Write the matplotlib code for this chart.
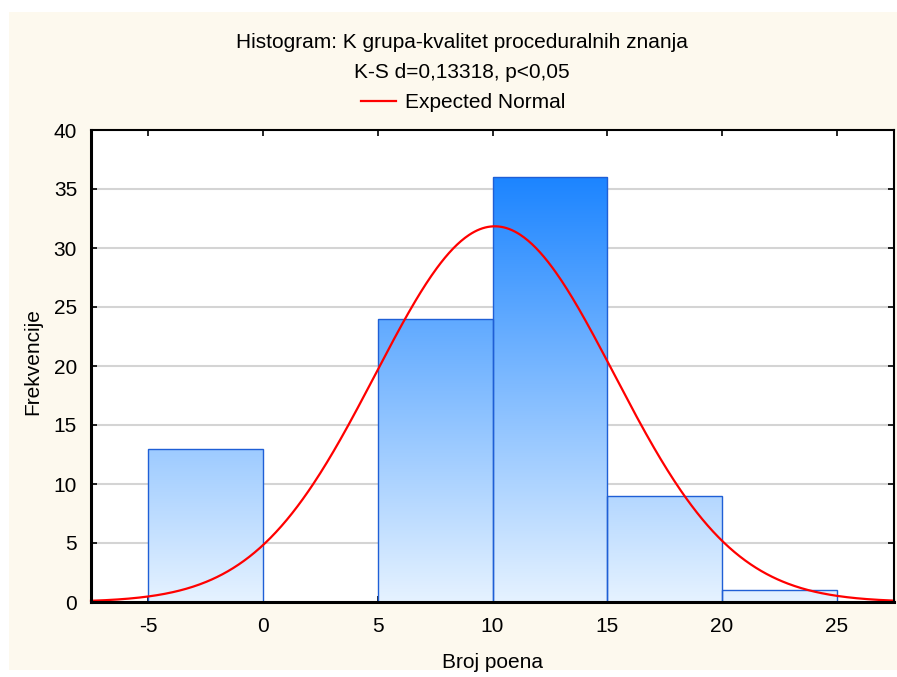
import numpy as np
import matplotlib
matplotlib.use("Agg")
import matplotlib.pyplot as plt
from matplotlib.patches import Rectangle
from matplotlib.lines import Line2D

plt.rcParams['font.family'] = ['Liberation Sans', 'DejaVu Sans']

# Histogram bins (lower edges) and counts
bin_edges = [-5, 0, 5, 10, 15, 20, 25]
counts = [13, 0, 24, 36, 9, 1]

# Parameters of the expected normal curve
sample_n = 83
sample_mean = 10.1
sample_sd = 5.2

title_line1 = "Histogram: K grupa-kvalitet proceduralnih znanja"
title_line2 = "K-S d=0,13318, p<0,05"
x_label = "Broj poena"
y_label = "Frekvencije"
x_ticks = [-5, 0, 5, 10, 15, 20, 25]
y_ticks = [0, 5, 10, 15, 20, 25, 30, 35, 40]

FS = 15

W, H = 897, 677
fig = plt.figure(figsize=(W / 100, H / 100), dpi=100)
fig.patch.set_facecolor("white")

# cream panel behind everything
panel = Rectangle((9 / W, 7 / H), (W - 9) / W, (H - 19) / H,
                  transform=fig.transFigure, facecolor="#fdf9ee",
                  edgecolor="none", zorder=-10)
fig.patches.append(panel)

ax = fig.add_axes([91 / W, (H - 602) / H, (894 - 91) / W, (602 - 130) / H])
ax.set_facecolor("white")
ax.set_xlim(-7.5, 27.5)
ax.set_ylim(0, 40)

# horizontal grid
for yv in y_ticks[1:-1]:
    ax.axhline(yv, color="#d4d4d4", lw=1.5, zorder=0)

# vertical blue gradient, shared across all bars
top_c = np.array([0.11, 0.52, 1.0])
bot_c = np.array([0.90, 0.95, 1.0])
t = np.linspace(0, 1, 256)[:, None]
grad = bot_c + (top_c - bot_c) * (t / 0.9)
grad = np.clip(grad, 0, 1)[:, None, :]
grad = np.repeat(grad, 2, axis=1)

for left, right, c in zip(bin_edges[:-1], bin_edges[1:], counts):
    if c <= 0:
        continue
    rect = Rectangle((left, 0), right - left, c, facecolor="none",
                     edgecolor="#1f5fd6", lw=1.0, zorder=3)
    ax.add_patch(rect)
    im = ax.imshow(grad, extent=(left, right, 0, 40), origin="lower",
                   aspect="auto", zorder=2, interpolation="bilinear")
    im.set_clip_path(rect)

# expected normal curve
xs = np.linspace(-7.5, 27.5, 600)
bw = bin_edges[1] - bin_edges[0]
ys = sample_n * bw / (sample_sd * np.sqrt(2 * np.pi)) * np.exp(-0.5 * ((xs - sample_mean) / sample_sd) ** 2)
ax.plot(xs, ys, color="#ff0000", lw=1.6, zorder=4, clip_on=False)
ax.set_xlim(-7.5, 27.5)
ax.set_ylim(0, 40)

ax.set_xticks(x_ticks)
ax.set_yticks(y_ticks)
ax.set_xticklabels([str(v) for v in x_ticks], fontsize=FS)
ax.set_yticklabels([str(v) for v in y_ticks], fontsize=FS)
ax.tick_params(axis="both", direction="in", length=4, width=1.2, color="black",
               top=True, right=True, pad=10)
ax.tick_params(axis="x", pad=11)

for side in ["left", "bottom"]:
    ax.spines[side].set_linewidth(2.2)
for side in ["top", "right"]:
    ax.spines[side].set_linewidth(1.5)
for s in ax.spines.values():
    s.set_color("black")
    s.set_zorder(5)

fig.text(462 / W, 1 - 42 / H, title_line1, ha="center", va="center", fontsize=FS)
fig.text(462 / W, 1 - 72 / H, title_line2, ha="center", va="center", fontsize=FS)
fig.text(492 / W, 1 - 663 / H, x_label, ha="center", va="center", fontsize=FS)
fig.text(33 / W, 1 - 362 / H, y_label, ha="center", va="center", fontsize=FS,
         rotation=90)

handle = Line2D([], [], color="#ff0000", lw=1.6)
fig.legend([handle], ["Expected Normal"], loc="center",
           bbox_to_anchor=(463 / W, 1 - 103 / H), frameon=False, fontsize=FS,
           handlelength=1.7, handletextpad=0.4)

fig.savefig("out.png", dpi=100, facecolor=fig.get_facecolor())
